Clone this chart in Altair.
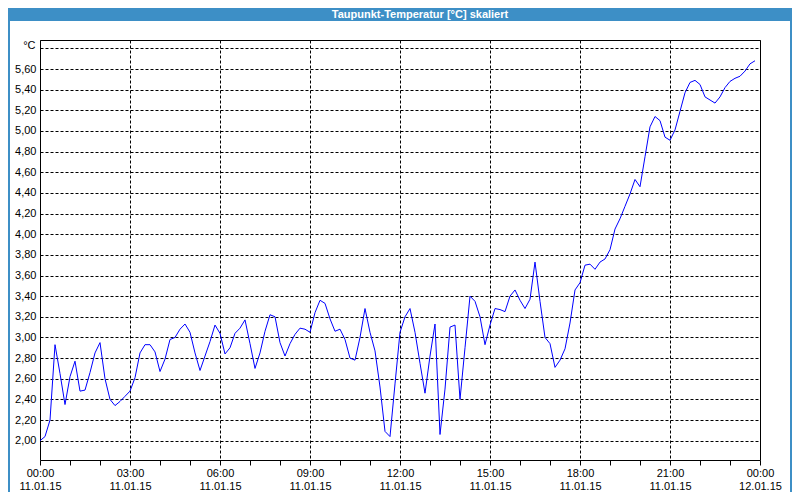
import altair as alt
import pandas as pd

# Dew point readings, one every 10 minutes from 11.01.15 00:00
values = [
    2.00, 2.04, 2.20, 2.93, 2.65, 2.35, 2.62, 2.77, 2.48, 2.49, 2.66, 2.85,
    2.95, 2.60, 2.40, 2.34, 2.38, 2.43, 2.48, 2.61, 2.85, 2.93, 2.93, 2.86,
    2.67, 2.79, 2.98, 3.00, 3.08, 3.13, 3.05, 2.85, 2.68, 2.82, 2.96, 3.12,
    3.04, 2.84, 2.90, 3.04, 3.09, 3.17, 2.94, 2.70, 2.85, 3.06, 3.22, 3.20,
    2.95, 2.82, 2.94, 3.03, 3.09, 3.08, 3.05, 3.24, 3.36, 3.33, 3.18, 3.06,
    3.08, 2.98, 2.80, 2.78, 3.00, 3.28, 3.05, 2.87, 2.52, 2.09, 2.04, 2.55,
    3.05, 3.20, 3.28, 3.05, 2.75, 2.46, 2.82, 3.13, 2.06, 2.50, 3.10, 3.12,
    2.40, 2.90, 3.40, 3.35, 3.20, 2.93, 3.12, 3.28, 3.27, 3.25, 3.40, 3.46,
    3.36, 3.28, 3.37, 3.73, 3.35, 3.00, 2.94, 2.71, 2.78, 2.89, 3.14, 3.46,
    3.53, 3.70, 3.71, 3.66, 3.73, 3.76, 3.85, 4.05, 4.15, 4.27, 4.39, 4.53,
    4.46, 4.75, 5.04, 5.14, 5.10, 4.94, 4.91, 5.01, 5.19, 5.37, 5.47, 5.49,
    5.45, 5.33, 5.30, 5.27, 5.33, 5.42, 5.48, 5.51, 5.53, 5.58, 5.65, 5.68,
]
minutes = [10 * i for i in range(len(values))]
hours = [m / 60 for m in minutes]

y_ticks = [2.0, 2.2, 2.4, 2.6, 2.8, 3.0, 3.2, 3.4, 3.6, 3.8,
           4.0, 4.2, 4.4, 4.6, 4.8, 5.0, 5.2, 5.4, 5.6, 5.8]
x_ticks = list(range(0, 25))
day1 = "11.01.15"
day2 = "12.01.15"
title_text = "Taupunkt-Temperatur [°C] skaliert"
unit = "°C"

BLUE = "#3d8fc6"
FONT = "Liberation Sans"

df = pd.DataFrame({"h": hours, "v": values})

x_label_expr = (
    "datum.value % 3 === 0 ? "
    "[pad(toString(datum.value % 24), 2, '0', 'left') + ':00', "
    f"datum.value < 24 ? '{day1}' : '{day2}'] : ''"
)
y_label_expr = "datum.value > 5.7 ? '' : replace(format(datum.value, '.2f'), '.', ',')"

line = alt.Chart(df).mark_line(color="#0000ff", strokeWidth=1).encode(
    x=alt.X(
        "h:Q",
        scale=alt.Scale(domain=[0, 24], nice=False, zero=False),
        axis=alt.Axis(
            values=x_ticks, title=None, grid=True, gridColor="black",
            gridDash=[3, 2], gridWidth=1,
            gridOpacity={"condition": {"test": "datum.value % 3 === 0", "value": 1}, "value": 0},
            domain=False, ticks=True, tickSize=5, tickColor="black",
            labelExpr=x_label_expr, labelOverlap=False, labelFlush=False,
            labelPadding=2, labelLineHeight=13, labelColor="black",
            labelFont=FONT, labelFontSize=11,
        ),
    ),
    y=alt.Y(
        "v:Q",
        scale=alt.Scale(domain=[1.813, 5.881], nice=False, zero=False),
        axis=alt.Axis(
            values=y_ticks, title=unit, titleAngle=0, titleAlign="right",
            titleBaseline="middle", titleX=-5, titleY=5,
            titleFontWeight="normal", titleFont=FONT, titleFontSize=11,
            titleColor="black",
            grid=True, gridColor="black", gridDash=[3, 2], gridWidth=1,
            domain=False, ticks=False, labelExpr=y_label_expr,
            labelPadding=4, labelColor="black", labelFont=FONT,
            labelFontSize=11, labelOverlap=False, labelFlush=False,
        ),
    ),
)

one = pd.DataFrame({"t": [title_text]})

title_bar = alt.Chart(one).mark_rect(color=BLUE).encode(
    x=alt.value(-32), x2=alt.value(752), y=alt.value(-32), y2=alt.value(-19)
)
border = alt.Chart(one).mark_rect(filled=False, stroke=BLUE, strokeWidth=2).encode(
    x=alt.value(-31), x2=alt.value(751), y=alt.value(-25), y2=alt.value(470)
)
title = alt.Chart(one).mark_text(
    color="white", font=FONT, fontSize=11, fontWeight="bold",
    align="center", baseline="middle",
).encode(text="t:N", x=alt.value(380), y=alt.value(-25.5))

chart = alt.layer(title_bar, border, title, line).properties(
    width=720, height=420,
    autosize=alt.AutoSizeParams(type="none"),
    padding={"left": 32, "top": 32, "right": 32, "bottom": 32},
    background="white",
).configure_view(stroke="black", strokeWidth=1, fill="white")

chart.save("out.html", embed_options={"renderer": "svg", "actions": False})
